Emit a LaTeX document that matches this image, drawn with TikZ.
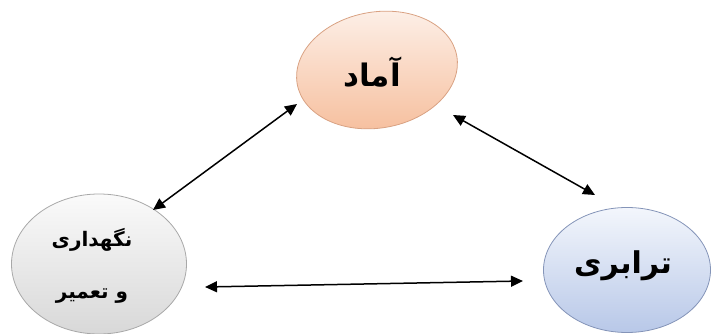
\documentclass[tikz,border=0pt]{standalone}
\usepackage{fontspec}
\usetikzlibrary{shapes.geometric,arrows.meta}
\TeXXeTstate=1
\newfontfamily\arabicfont[Script=Arabic]{DejaVu Sans}
\definecolor{peachtop}{HTML}{FDF1EA}
\definecolor{peachbot}{HTML}{F6BE9C}
\definecolor{peachline}{HTML}{D9A283}
\definecolor{greytop}{HTML}{FAFAFA}
\definecolor{greybot}{HTML}{D8D8D8}
\definecolor{greyline}{HTML}{A8A8A8}
\definecolor{bluetop}{HTML}{F3F6FC}
\definecolor{bluebot}{HTML}{B8C8E8}
\definecolor{blueline}{HTML}{8494B8}
\tikzset{
  blob/.style={ellipse, inner sep=0pt, line width=0.8pt},
  lbl/.style={align=center, text=black, inner sep=0pt},
  link/.style={line width=1.5pt, {Triangle[length=12pt,width=11pt]}-{Triangle[length=12pt,width=11pt]}}
}
\begin{document}
\begin{tikzpicture}[x=1pt,y=-1pt]
\useasboundingbox (0,0) rectangle (716,334);
% top ellipse
\node[blob, draw=peachline, top color=peachtop, bottom color=peachbot,
      minimum width=162pt, minimum height=116pt, rotate=10] (amad) at (377,70) {};
\node[lbl, font=\arabicfont\bfseries\fontsize{31}{34}\selectfont] (amadt) at (372,72) {\beginR آماد\endR};
% left ellipse
\node[blob, draw=greyline, top color=greytop, bottom color=greybot,
      minimum width=175pt, minimum height=140pt] (negah) at (99,264) {};
\node[lbl, font=\arabicfont\bfseries\fontsize{20}{52}\selectfont] (negaht) at (92,266) {\beginR نگهداری\endR\\\beginR و تعمیر\endR};
% right ellipse
\node[blob, draw=blueline, top color=bluetop, bottom color=bluebot,
      minimum width=167pt, minimum height=125pt] (tarab) at (627,270) {};
\node[lbl, font=\arabicfont\bfseries\fontsize{30}{34}\selectfont] (tarabt) at (623,266) {\beginR ترابری\endR};
% connector end points
\coordinate (a1) at (153,210);
\coordinate (a2) at (297,104);
\coordinate (b1) at (453,115);
\coordinate (b2) at (595,195);
\coordinate (c1) at (205,287);
\coordinate (c2) at (523,281);
\draw[link] (a1) -- (a2);
\draw[link] (b1) -- (b2);
\draw[link] (c1) -- (c2);
\end{tikzpicture}
\end{document}
